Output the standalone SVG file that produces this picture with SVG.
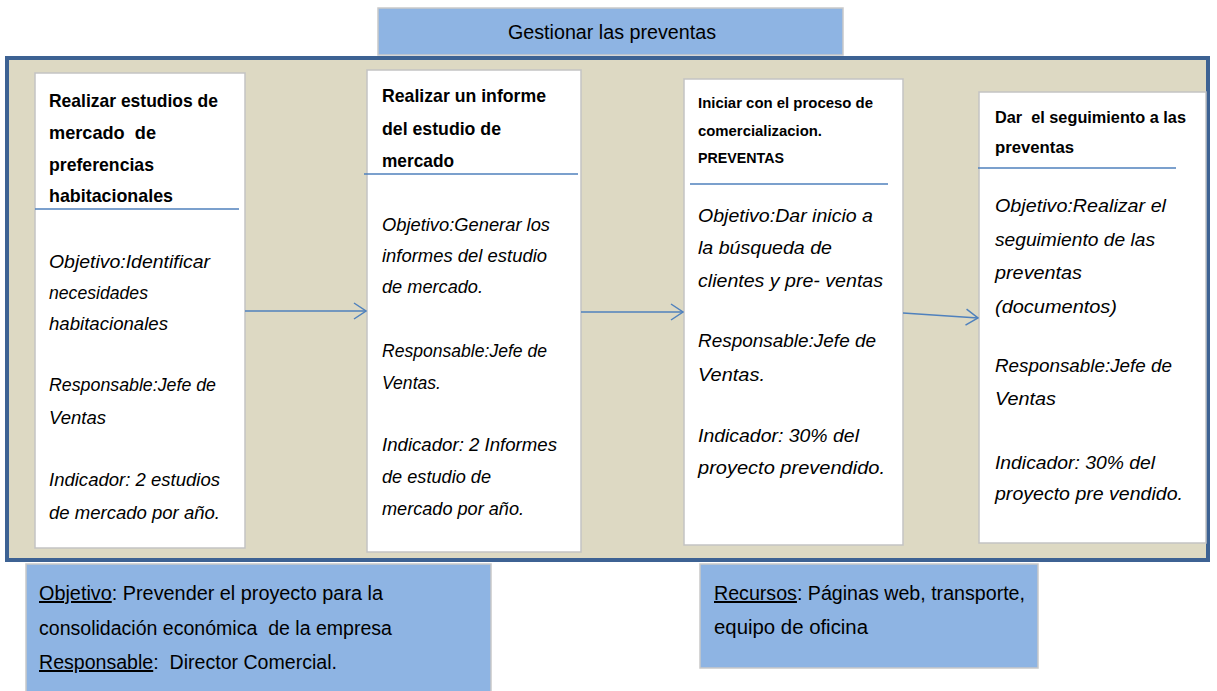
<svg xmlns="http://www.w3.org/2000/svg" width="1217" height="691" viewBox="0 0 1217 691">
<defs>
<marker id="arr" markerWidth="14" markerHeight="18" refX="13" refY="9" orient="auto" markerUnits="userSpaceOnUse">
<path d="M1,1 L13,9 L1,17" fill="none" stroke="#4f81bd" stroke-width="1.5"/>
</marker>
<style>
text{font-family:"Liberation Sans",Arial,sans-serif;fill:#000;white-space:pre}
.h{font-weight:bold;font-size:19px}
.h3{font-weight:bold;font-size:15.5px}
.i{font-style:italic;font-size:19px}
.n{font-size:20px}
.box{fill:#fff;stroke:#c3c3c3;stroke-width:1.5}
.blue{fill:#8eb4e3;stroke:#c9c9c9;stroke-width:1.5}
.sep{stroke:#4f81bd;stroke-width:1.5}
.con{stroke:#4f81bd;stroke-width:1.5;fill:none}
.u{text-decoration:underline}
</style>
</defs>
<rect width="1217" height="691" fill="#fff"/>

<g id="title">
<rect class="blue" x="378" y="8" width="465" height="47"/>
<text class="n" x="508" y="39" textLength="208" lengthAdjust="spacingAndGlyphs">Gestionar las preventas</text>
</g>

<g id="frame">
<rect x="7" y="58" width="1201" height="502" fill="#ddd9c3" stroke="#3d6293" stroke-width="4"/>
</g>

<g id="node1">
<rect class="box" x="35" y="73" width="210" height="475"/>
<text class="h" x="49" y="107" textLength="169" lengthAdjust="spacingAndGlyphs">Realizar estudios de</text>
<text class="h" x="49" y="139" textLength="107" lengthAdjust="spacingAndGlyphs">mercado  de</text>
<text class="h" x="49" y="171" textLength="105" lengthAdjust="spacingAndGlyphs">preferencias</text>
<text class="h" x="49" y="202" textLength="124" lengthAdjust="spacingAndGlyphs">habitacionales</text>
<line class="sep" x1="35" y1="209" x2="239" y2="209"/>
<text class="i" x="49" y="268" textLength="161" lengthAdjust="spacingAndGlyphs">Objetivo:Identificar</text>
<text class="i" x="49" y="299" textLength="99" lengthAdjust="spacingAndGlyphs">necesidades</text>
<text class="i" x="49" y="330" textLength="119" lengthAdjust="spacingAndGlyphs">habitacionales</text>
<text class="i" x="49" y="391" textLength="167" lengthAdjust="spacingAndGlyphs">Responsable:Jefe de</text>
<text class="i" x="49" y="424" textLength="57" lengthAdjust="spacingAndGlyphs">Ventas</text>
<text class="i" x="49" y="486" textLength="171" lengthAdjust="spacingAndGlyphs">Indicador: 2 estudios</text>
<text class="i" x="49" y="519" textLength="171" lengthAdjust="spacingAndGlyphs">de mercado por año.</text>
</g>

<g id="node2">
<rect class="box" x="367" y="70" width="214" height="482"/>
<text class="h" x="382" y="102" textLength="164" lengthAdjust="spacingAndGlyphs">Realizar un informe</text>
<text class="h" x="382" y="135" textLength="119" lengthAdjust="spacingAndGlyphs">del estudio de</text>
<text class="h" x="382" y="167" textLength="72" lengthAdjust="spacingAndGlyphs">mercado</text>
<line class="sep" x1="364" y1="174" x2="578" y2="174"/>
<text class="i" x="382" y="231" textLength="168" lengthAdjust="spacingAndGlyphs">Objetivo:Generar los</text>
<text class="i" x="382" y="262" textLength="165" lengthAdjust="spacingAndGlyphs">informes del estudio</text>
<text class="i" x="382" y="293" textLength="101" lengthAdjust="spacingAndGlyphs">de mercado.</text>
<text class="i" x="382" y="357" textLength="165" lengthAdjust="spacingAndGlyphs">Responsable:Jefe de</text>
<text class="i" x="382" y="389" textLength="59" lengthAdjust="spacingAndGlyphs">Ventas.</text>
<text class="i" x="382" y="451" textLength="175" lengthAdjust="spacingAndGlyphs">Indicador: 2 Informes</text>
<text class="i" x="382" y="483" textLength="109" lengthAdjust="spacingAndGlyphs">de estudio de</text>
<text class="i" x="382" y="515" textLength="142" lengthAdjust="spacingAndGlyphs">mercado por año.</text>
</g>

<g id="node3">
<rect class="box" x="684" y="79" width="219" height="466"/>
<text class="h3" x="698" y="108" textLength="175" lengthAdjust="spacingAndGlyphs">Iniciar con el proceso de</text>
<text class="h3" x="698" y="136" textLength="124" lengthAdjust="spacingAndGlyphs">comercializacion.</text>
<text class="h3" x="698" y="163" textLength="86" lengthAdjust="spacingAndGlyphs">PREVENTAS</text>
<line class="sep" x1="690" y1="184" x2="888" y2="184"/>
<text class="i" x="698" y="222" textLength="175" lengthAdjust="spacingAndGlyphs">Objetivo:Dar inicio a</text>
<text class="i" x="698" y="254" textLength="134" lengthAdjust="spacingAndGlyphs">la búsqueda de</text>
<text class="i" x="698" y="287" textLength="185" lengthAdjust="spacingAndGlyphs">clientes y pre- ventas</text>
<text class="i" x="698" y="347" textLength="178" lengthAdjust="spacingAndGlyphs">Responsable:Jefe de</text>
<text class="i" x="698" y="381" textLength="67" lengthAdjust="spacingAndGlyphs">Ventas.</text>
<text class="i" x="698" y="442" textLength="161" lengthAdjust="spacingAndGlyphs">Indicador: 30% del</text>
<text class="i" x="698" y="474" textLength="187" lengthAdjust="spacingAndGlyphs">proyecto prevendido.</text>
</g>

<g id="node4">
<rect class="box" x="979" y="92" width="227" height="451"/>
<text class="h3" x="995" y="123" textLength="191" lengthAdjust="spacingAndGlyphs" style="font-size:16.5px">Dar  el seguimiento a las</text>
<text class="h3" x="995" y="153" textLength="79" lengthAdjust="spacingAndGlyphs" style="font-size:16.5px">preventas</text>
<line class="sep" x1="978" y1="168" x2="1176" y2="168"/>
<text class="i" x="995" y="212" textLength="171" lengthAdjust="spacingAndGlyphs">Objetivo:Realizar el</text>
<text class="i" x="995" y="246" textLength="160" lengthAdjust="spacingAndGlyphs">seguimiento de las</text>
<text class="i" x="995" y="279" textLength="87" lengthAdjust="spacingAndGlyphs">preventas</text>
<text class="i" x="995" y="313" textLength="122" lengthAdjust="spacingAndGlyphs">(documentos)</text>
<text class="i" x="995" y="372" textLength="177" lengthAdjust="spacingAndGlyphs">Responsable:Jefe de</text>
<text class="i" x="995" y="405" textLength="61" lengthAdjust="spacingAndGlyphs">Ventas</text>
<text class="i" x="995" y="469" textLength="160" lengthAdjust="spacingAndGlyphs">Indicador: 30% del</text>
<text class="i" x="995" y="500" textLength="188" lengthAdjust="spacingAndGlyphs">proyecto pre vendido.</text>
</g>

<g id="connectors">
<line class="con" x1="245" y1="311" x2="366" y2="311" marker-end="url(#arr)"/>
<line class="con" x1="581" y1="312" x2="683" y2="312" marker-end="url(#arr)"/>
<line class="con" x1="903" y1="313" x2="978" y2="318" marker-end="url(#arr)"/>
</g>

<g id="objetivo">
<rect class="blue" x="26" y="564" width="465" height="130"/>
<text class="n" x="39" y="600" textLength="344" lengthAdjust="spacingAndGlyphs"><tspan class="u">Objetivo</tspan>: Prevender el proyecto para la</text>
<text class="n" x="39" y="635" textLength="353" lengthAdjust="spacingAndGlyphs">consolidación económica  de la empresa</text>
<text class="n" x="39" y="669" textLength="298" lengthAdjust="spacingAndGlyphs"><tspan class="u">Responsable</tspan>:  Director Comercial.</text>
</g>

<g id="recursos">
<rect class="blue" x="700" y="564" width="338" height="104"/>
<text class="n" x="714" y="600" textLength="311" lengthAdjust="spacingAndGlyphs"><tspan class="u">Recursos</tspan>: Páginas web, transporte,</text>
<text class="n" x="714" y="634" textLength="154" lengthAdjust="spacingAndGlyphs">equipo de oficina</text>
</g>
</svg>
